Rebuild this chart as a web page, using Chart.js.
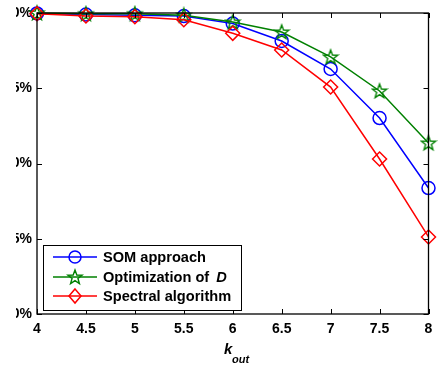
<!DOCTYPE html>
<html>
<head>
<meta charset="utf-8">
<script src="https://cdn.jsdelivr.net/npm/chart.js@4/dist/chart.umd.min.js"></script>
<style>
  html, body { margin: 0; padding: 0; background: #fff; }
  /* the original export is cut on the left edge, through the y labels */
  #wrap { position: relative; margin-left: 16px; width: 422px; height: 367px; overflow: hidden; }
  #chart { position: absolute; left: -16px; top: 0; }
</style>
</head>
<body>
<div id="wrap"><canvas id="chart" width="438" height="367"></canvas></div>
<script>
// --- data ---
const kOut = [4, 4.5, 5, 5.5, 6, 6.5, 7, 7.5, 8];
const somValues = [99.97, 99.9, 99.85, 99.8, 99.3, 98.14, 96.28, 93.02, 88.37];
const optValues = [100, 99.95, 99.95, 99.85, 99.4, 98.74, 97.08, 94.82, 91.36];
const specValues = [99.95, 99.8, 99.75, 99.55, 98.65, 97.54, 95.08, 90.3, 85.12];
const seriesNames = ['SOM approach', 'Optimization of ', 'Spectral algorithm'];
const yTicks = [80, 85, 90, 95, 100];
const xTicks = [4, 4.5, 5, 5.5, 6, 6.5, 7, 7.5, 8];

const BLUE = '#0000ff', GREEN = '#008000', RED = '#ff0000';
const FONT = '"Liberation Sans", Arial, Helvetica, sans-serif';

// pentagram marker (matlab style), drawn once on an offscreen canvas
function makeStar(color) {
    const c = document.createElement('canvas');
    c.width = 18; c.height = 18;
    const g = c.getContext('2d');
    g.strokeStyle = color;
    g.lineWidth = 1.4;
    g.beginPath();
    for (let i = 0; i < 10; i++) {
        const r = i % 2 === 0 ? 7.5 : 3.1;
        const a = -Math.PI / 2 + i * Math.PI / 5;
        const px = 9 + r * Math.cos(a), py = 9.5 + r * Math.sin(a);
        if (i === 0) g.moveTo(px, py); else g.lineTo(px, py);
    }
    g.closePath();
    g.stroke();
    return c;
}
const starImg = makeStar(GREEN);

function toPoints(vals) {
    return kOut.map((x, i) => ({ x: x, y: vals[i] }));
}

// box + inward ticks, legend, x title
const decorPlugin = {
    id: 'decor',
    afterDraw(chart) {
        const ctx = chart.ctx;
        const a = chart.chartArea;
        const xs = chart.scales.x, ys = chart.scales.y;
        ctx.save();
        ctx.strokeStyle = '#000';
        ctx.lineWidth = 1.3;
        ctx.strokeRect(a.left, a.top, a.right - a.left, a.bottom - a.top);
        ctx.lineWidth = 1;
        ctx.beginPath();
        xTicks.forEach(v => {
            const px = Math.round(xs.getPixelForValue(v)) + 0.5;
            ctx.moveTo(px, a.bottom); ctx.lineTo(px, a.bottom - 5);
            ctx.moveTo(px, a.top); ctx.lineTo(px, a.top + 5);
        });
        yTicks.forEach(v => {
            const py = Math.round(ys.getPixelForValue(v)) + 0.5;
            ctx.moveTo(a.left, py); ctx.lineTo(a.left + 5, py);
            ctx.moveTo(a.right, py); ctx.lineTo(a.right - 5, py);
        });
        ctx.stroke();

        // legend
        const lx = 43, ly = 245, lw = 198, lh = 65;
        ctx.fillStyle = '#fff';
        ctx.fillRect(lx, ly, lw, lh);
        ctx.strokeStyle = '#000';
        ctx.lineWidth = 1;
        ctx.strokeRect(lx + 0.5, ly + 0.5, lw, lh);
        const rows = [
            { color: BLUE, style: 'circle', y: 257 },
            { color: GREEN, style: 'star', y: 277 },
            { color: RED, style: 'diamond', y: 296 }
        ];
        const mx = 75;
        rows.forEach((r, i) => {
            ctx.strokeStyle = r.color;
            ctx.lineWidth = 1.5;
            ctx.beginPath();
            ctx.moveTo(53, r.y); ctx.lineTo(97, r.y);
            ctx.stroke();
            ctx.beginPath();
            if (r.style === 'circle') {
                ctx.arc(mx, r.y, 6, 0, Math.PI * 2);
                ctx.stroke();
            } else if (r.style === 'diamond') {
                ctx.moveTo(mx, r.y - 7); ctx.lineTo(mx + 6, r.y);
                ctx.lineTo(mx, r.y + 7); ctx.lineTo(mx - 6, r.y);
                ctx.closePath();
                ctx.stroke();
            } else {
                ctx.drawImage(starImg, mx - 9, r.y - 9);
            }
            ctx.fillStyle = '#000';
            ctx.textBaseline = 'middle';
            ctx.textAlign = 'left';
            ctx.font = 'bold 14.6px ' + FONT;
            ctx.fillText(seriesNames[i], 103, r.y + 1);
            if (i === 1) {
                const w = ctx.measureText(seriesNames[i]).width;
                ctx.font = 'italic bold 14.6px ' + FONT;
                ctx.fillText('D', 103 + w + 3, r.y + 1);
            }
        });

        // x axis title k_out
        ctx.fillStyle = '#000';
        ctx.textBaseline = 'alphabetic';
        ctx.textAlign = 'left';
        ctx.font = 'italic bold 15px ' + FONT;
        ctx.fillText('k', 224, 354);
        ctx.font = 'italic bold 11px ' + FONT;
        ctx.fillText('out', 232, 363);
        ctx.restore();
    }
};

const baseDs = { borderWidth: 1.5, pointBorderWidth: 1.5, pointBackgroundColor: 'rgba(0,0,0,0)', tension: 0, clip: false };

new Chart(document.getElementById('chart'), {
    type: 'line',
    data: {
        datasets: [
            Object.assign({}, baseDs, {
                label: 'SOM approach', data: toPoints(somValues), order: 3,
                borderColor: BLUE, pointBorderColor: BLUE, pointStyle: 'circle', pointRadius: 6.5
            }),
            Object.assign({}, baseDs, {
                label: 'Optimization of D', data: toPoints(optValues), order: 2,
                borderColor: GREEN, pointBorderColor: GREEN, pointStyle: starImg, pointRadius: 8
            }),
            Object.assign({}, baseDs, {
                label: 'Spectral algorithm', data: toPoints(specValues), order: 1,
                borderColor: RED, pointBorderColor: RED, pointStyle: 'rectRot', pointRadius: 7
            })
        ]
    },
    options: {
        responsive: false,
        animation: false,
        events: [],
        layout: { padding: { left: 0, right: 3, top: 13, bottom: 0 } },
        scales: {
            x: {
                type: 'linear', min: 4, max: 8,
                afterBuildTicks: s => { s.ticks = xTicks.map(v => ({ value: v })); },
                afterFit: s => { s.height = 53; s.paddingLeft = 0; s.paddingRight = 0; },
                grid: { display: false, drawTicks: false },
                border: { display: false },
                ticks: {
                    padding: 7, color: '#000',
                    font: { family: FONT, size: 14, weight: 'bold' },
                    callback: v => String(v)
                }
            },
            y: {
                min: 80, max: 100,
                afterBuildTicks: s => { s.ticks = yTicks.map(v => ({ value: v })); },
                afterFit: s => { s.width = 37; s.paddingTop = 0; s.paddingBottom = 0; },
                grid: { display: false, drawTicks: false },
                border: { display: false },
                ticks: {
                    padding: 5, color: '#000',
                    font: { family: FONT, size: 14, weight: 'bold' },
                    callback: v => v + '%'
                }
            }
        },
        plugins: {
            legend: { display: false },
            tooltip: { enabled: false }
        }
    },
    plugins: [decorPlugin]
});
</script>
</body>
</html>
